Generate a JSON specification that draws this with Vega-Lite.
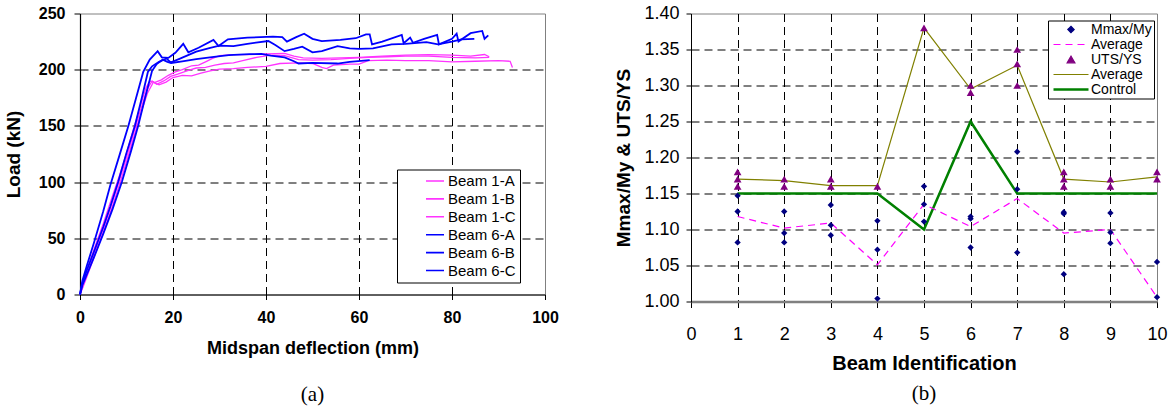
{
  "$schema": "https://vega.github.io/schema/vega-lite/v6.json",
  "background": "white",
  "padding": {"left": 3, "top": 3.5, "right": 0, "bottom": 0},
  "bounds": "flush",
  "spacing": 146,
  "resolve": {"scale": {"color": "independent"}, "legend": {"color": "independent"}},
  "config": {
    "font": "Liberation Sans",
    "view": {"stroke": "#808080", "strokeWidth": 1},
    "axis": {"gridColor": "#000", "gridDash": [8, 5], "gridWidth": 1, "domainColor": "#000", "tickColor": "#000", "labelColor": "#000", "titleColor": "#000", "labelFlush": false, "labelOverlap": false}
  },
  "datasets": {
    "curves": [
      {"b":"Beam 1-A","d":0,"l":0},{"b":"Beam 1-A","d":0.5,"l":8},{"b":"Beam 1-A","d":1.5,"l":22},{"b":"Beam 1-A","d":3,"l":40},{"b":"Beam 1-A","d":5,"l":63},{"b":"Beam 1-A","d":7,"l":88},{"b":"Beam 1-A","d":8.5,"l":106},{"b":"Beam 1-A","d":10,"l":126},{"b":"Beam 1-A","d":11.5,"l":147},{"b":"Beam 1-A","d":13,"l":168},{"b":"Beam 1-A","d":14.2,"l":184},{"b":"Beam 1-A","d":15,"l":190},{"b":"Beam 1-A","d":16,"l":188.5},{"b":"Beam 1-A","d":17.5,"l":191},{"b":"Beam 1-A","d":19,"l":195},{"b":"Beam 1-A","d":20.5,"l":198},{"b":"Beam 1-A","d":22,"l":200},{"b":"Beam 1-A","d":24,"l":203.5},{"b":"Beam 1-A","d":25.5,"l":204},{"b":"Beam 1-A","d":27,"l":207},{"b":"Beam 1-A","d":28.5,"l":210},{"b":"Beam 1-A","d":30,"l":212.5},{"b":"Beam 1-A","d":33,"l":213.5},{"b":"Beam 1-A","d":36,"l":213.5},{"b":"Beam 1-A","d":40,"l":214},{"b":"Beam 1-A","d":44,"l":214.5},{"b":"Beam 1-A","d":46,"l":212},{"b":"Beam 1-A","d":48,"l":210.5},{"b":"Beam 1-A","d":52,"l":210},{"b":"Beam 1-A","d":56,"l":210.5},{"b":"Beam 1-A","d":60,"l":211},{"b":"Beam 1-A","d":65,"l":212},{"b":"Beam 1-A","d":70,"l":213},{"b":"Beam 1-A","d":75,"l":213.5},{"b":"Beam 1-A","d":80,"l":213},{"b":"Beam 1-A","d":84,"l":212},{"b":"Beam 1-A","d":87,"l":213.5},{"b":"Beam 1-A","d":88,"l":211.5},
      {"b":"Beam 1-B","d":0,"l":0},{"b":"Beam 1-B","d":0.5,"l":6},{"b":"Beam 1-B","d":1.5,"l":18},{"b":"Beam 1-B","d":3,"l":36},{"b":"Beam 1-B","d":5,"l":58},{"b":"Beam 1-B","d":7,"l":83},{"b":"Beam 1-B","d":8.5,"l":102},{"b":"Beam 1-B","d":10,"l":122},{"b":"Beam 1-B","d":11.5,"l":143},{"b":"Beam 1-B","d":13,"l":164},{"b":"Beam 1-B","d":14.5,"l":183},{"b":"Beam 1-B","d":15.5,"l":190},{"b":"Beam 1-B","d":16.5,"l":187},{"b":"Beam 1-B","d":18,"l":190},{"b":"Beam 1-B","d":19.5,"l":194},{"b":"Beam 1-B","d":21,"l":196},{"b":"Beam 1-B","d":23,"l":199},{"b":"Beam 1-B","d":25,"l":201.5},{"b":"Beam 1-B","d":27,"l":202},{"b":"Beam 1-B","d":29,"l":204},{"b":"Beam 1-B","d":31,"l":205.5},{"b":"Beam 1-B","d":33,"l":206},{"b":"Beam 1-B","d":35,"l":208},{"b":"Beam 1-B","d":38,"l":211},{"b":"Beam 1-B","d":41,"l":213},{"b":"Beam 1-B","d":44,"l":212.5},{"b":"Beam 1-B","d":47,"l":209},{"b":"Beam 1-B","d":50,"l":208.5},{"b":"Beam 1-B","d":54,"l":209},{"b":"Beam 1-B","d":58,"l":210},{"b":"Beam 1-B","d":62,"l":211},{"b":"Beam 1-B","d":66,"l":211.5},{"b":"Beam 1-B","d":70,"l":212},{"b":"Beam 1-B","d":75,"l":212},{"b":"Beam 1-B","d":80,"l":211},{"b":"Beam 1-B","d":85,"l":210.5},{"b":"Beam 1-B","d":88,"l":211},
      {"b":"Beam 1-C","d":0,"l":0},{"b":"Beam 1-C","d":0.5,"l":5},{"b":"Beam 1-C","d":1.5,"l":16},{"b":"Beam 1-C","d":3,"l":33},{"b":"Beam 1-C","d":5,"l":55},{"b":"Beam 1-C","d":7,"l":79},{"b":"Beam 1-C","d":8.5,"l":98},{"b":"Beam 1-C","d":10,"l":118},{"b":"Beam 1-C","d":11.5,"l":139},{"b":"Beam 1-C","d":13,"l":160},{"b":"Beam 1-C","d":14.5,"l":179},{"b":"Beam 1-C","d":15.8,"l":189},{"b":"Beam 1-C","d":17,"l":186.5},{"b":"Beam 1-C","d":18.5,"l":189},{"b":"Beam 1-C","d":20,"l":193},{"b":"Beam 1-C","d":22,"l":195},{"b":"Beam 1-C","d":24,"l":194.5},{"b":"Beam 1-C","d":26,"l":197},{"b":"Beam 1-C","d":28,"l":199},{"b":"Beam 1-C","d":30,"l":200.5},{"b":"Beam 1-C","d":33,"l":201},{"b":"Beam 1-C","d":36,"l":202},{"b":"Beam 1-C","d":40,"l":203},{"b":"Beam 1-C","d":43,"l":205.5},{"b":"Beam 1-C","d":47,"l":206},{"b":"Beam 1-C","d":50,"l":205.5},{"b":"Beam 1-C","d":52,"l":202},{"b":"Beam 1-C","d":53,"l":201},{"b":"Beam 1-C","d":54.5,"l":204},{"b":"Beam 1-C","d":58,"l":205},{"b":"Beam 1-C","d":60,"l":205},{"b":"Beam 1-C","d":62,"l":208},{"b":"Beam 1-C","d":66,"l":208.5},{"b":"Beam 1-C","d":70,"l":208},{"b":"Beam 1-C","d":75,"l":208},{"b":"Beam 1-C","d":80,"l":207},{"b":"Beam 1-C","d":85,"l":207.5},{"b":"Beam 1-C","d":90,"l":208},{"b":"Beam 1-C","d":92.5,"l":207.5},{"b":"Beam 1-C","d":93,"l":202},
      {"b":"Beam 6-A","d":0,"l":0},{"b":"Beam 6-A","d":0.5,"l":12},{"b":"Beam 6-A","d":1.5,"l":26},{"b":"Beam 6-A","d":3,"l":46},{"b":"Beam 6-A","d":5,"l":74},{"b":"Beam 6-A","d":6.5,"l":97},{"b":"Beam 6-A","d":8.5,"l":124},{"b":"Beam 6-A","d":10.4,"l":150},{"b":"Beam 6-A","d":12,"l":174},{"b":"Beam 6-A","d":13.6,"l":198},{"b":"Beam 6-A","d":15,"l":209},{"b":"Beam 6-A","d":16.7,"l":216.5},{"b":"Beam 6-A","d":17.6,"l":211},{"b":"Beam 6-A","d":19,"l":210.5},{"b":"Beam 6-A","d":20.5,"l":215},{"b":"Beam 6-A","d":22.2,"l":223},{"b":"Beam 6-A","d":23.3,"l":215.5},{"b":"Beam 6-A","d":25.5,"l":219.5},{"b":"Beam 6-A","d":28.7,"l":226.5},{"b":"Beam 6-A","d":29.8,"l":221},{"b":"Beam 6-A","d":31.8,"l":227},{"b":"Beam 6-A","d":36,"l":228.5},{"b":"Beam 6-A","d":41.5,"l":229.5},{"b":"Beam 6-A","d":43.5,"l":229},{"b":"Beam 6-A","d":44.5,"l":225},{"b":"Beam 6-A","d":46.5,"l":229},{"b":"Beam 6-A","d":48.2,"l":232},{"b":"Beam 6-A","d":50,"l":227.5},{"b":"Beam 6-A","d":52,"l":225.5},{"b":"Beam 6-A","d":56,"l":226.5},{"b":"Beam 6-A","d":59.3,"l":228},{"b":"Beam 6-A","d":61.5,"l":231.5},{"b":"Beam 6-A","d":62.3,"l":231.5},{"b":"Beam 6-A","d":62.8,"l":222.5},{"b":"Beam 6-A","d":65,"l":225},{"b":"Beam 6-A","d":69.2,"l":231},{"b":"Beam 6-A","d":69.6,"l":223.5},{"b":"Beam 6-A","d":71,"l":228.5},{"b":"Beam 6-A","d":71.6,"l":224},{"b":"Beam 6-A","d":74,"l":227.5},{"b":"Beam 6-A","d":76.8,"l":231},{"b":"Beam 6-A","d":77.2,"l":222.5},{"b":"Beam 6-A","d":80,"l":227.5},{"b":"Beam 6-A","d":81,"l":232},{"b":"Beam 6-A","d":81.4,"l":225},{"b":"Beam 6-A","d":84,"l":232.5},{"b":"Beam 6-A","d":86.5,"l":234.5},{"b":"Beam 6-A","d":87,"l":227.5},{"b":"Beam 6-A","d":87.8,"l":230.5},
      {"b":"Beam 6-B","d":0,"l":0},{"b":"Beam 6-B","d":0.5,"l":10},{"b":"Beam 6-B","d":1.5,"l":22},{"b":"Beam 6-B","d":3,"l":38},{"b":"Beam 6-B","d":5,"l":60},{"b":"Beam 6-B","d":6.5,"l":78},{"b":"Beam 6-B","d":8.2,"l":100},{"b":"Beam 6-B","d":10,"l":126},{"b":"Beam 6-B","d":11.8,"l":150},{"b":"Beam 6-B","d":13.3,"l":175},{"b":"Beam 6-B","d":14.6,"l":198},{"b":"Beam 6-B","d":15.5,"l":203},{"b":"Beam 6-B","d":17,"l":207},{"b":"Beam 6-B","d":18.6,"l":210},{"b":"Beam 6-B","d":19.5,"l":206.5},{"b":"Beam 6-B","d":21,"l":209},{"b":"Beam 6-B","d":23,"l":212.5},{"b":"Beam 6-B","d":25,"l":216},{"b":"Beam 6-B","d":28,"l":219.5},{"b":"Beam 6-B","d":30,"l":221.5},{"b":"Beam 6-B","d":33,"l":221},{"b":"Beam 6-B","d":36,"l":223},{"b":"Beam 6-B","d":40.5,"l":225.5},{"b":"Beam 6-B","d":42,"l":222},{"b":"Beam 6-B","d":44,"l":216.5},{"b":"Beam 6-B","d":46,"l":218.5},{"b":"Beam 6-B","d":47.8,"l":220.5},{"b":"Beam 6-B","d":50,"l":215.5},{"b":"Beam 6-B","d":52,"l":216.5},{"b":"Beam 6-B","d":55.4,"l":221},{"b":"Beam 6-B","d":58,"l":219},{"b":"Beam 6-B","d":60,"l":218.5},{"b":"Beam 6-B","d":63,"l":219},{"b":"Beam 6-B","d":67,"l":222.5},{"b":"Beam 6-B","d":70,"l":223},{"b":"Beam 6-B","d":74.5,"l":224.5},{"b":"Beam 6-B","d":77,"l":222.5},{"b":"Beam 6-B","d":80,"l":225},{"b":"Beam 6-B","d":82,"l":227},{"b":"Beam 6-B","d":84.8,"l":227.5},
      {"b":"Beam 6-C","d":0,"l":0},{"b":"Beam 6-C","d":0.5,"l":8},{"b":"Beam 6-C","d":1.5,"l":18},{"b":"Beam 6-C","d":3,"l":33},{"b":"Beam 6-C","d":5,"l":54},{"b":"Beam 6-C","d":7,"l":76},{"b":"Beam 6-C","d":9,"l":100},{"b":"Beam 6-C","d":11,"l":128},{"b":"Beam 6-C","d":12.5,"l":150},{"b":"Beam 6-C","d":14,"l":175},{"b":"Beam 6-C","d":15.5,"l":199},{"b":"Beam 6-C","d":16.5,"l":205},{"b":"Beam 6-C","d":17.8,"l":209},{"b":"Beam 6-C","d":18.8,"l":207},{"b":"Beam 6-C","d":19.6,"l":206},{"b":"Beam 6-C","d":22,"l":207.5},{"b":"Beam 6-C","d":25,"l":209.5},{"b":"Beam 6-C","d":28.8,"l":211.5},{"b":"Beam 6-C","d":32,"l":213},{"b":"Beam 6-C","d":36.4,"l":213.8},{"b":"Beam 6-C","d":39,"l":214},{"b":"Beam 6-C","d":41,"l":212.5},{"b":"Beam 6-C","d":44,"l":211},{"b":"Beam 6-C","d":46,"l":207.5},{"b":"Beam 6-C","d":47,"l":205.5},{"b":"Beam 6-C","d":50,"l":206},{"b":"Beam 6-C","d":55.4,"l":205.5},{"b":"Beam 6-C","d":58,"l":207},{"b":"Beam 6-C","d":62.3,"l":208.5}
    ],
    "pts": [
      {"s":"Mmax/My","x":1,"v":1.147},{"s":"Mmax/My","x":1,"v":1.125},{"s":"Mmax/My","x":1,"v":1.082},
      {"s":"Mmax/My","x":2,"v":1.125},{"s":"Mmax/My","x":2,"v":1.095},{"s":"Mmax/My","x":2,"v":1.082},
      {"s":"Mmax/My","x":3,"v":1.134},{"s":"Mmax/My","x":3,"v":1.106},{"s":"Mmax/My","x":3,"v":1.092},
      {"s":"Mmax/My","x":4,"v":1.112},{"s":"Mmax/My","x":4,"v":1.072},{"s":"Mmax/My","x":4,"v":1.004},
      {"s":"Mmax/My","x":5,"v":1.16},{"s":"Mmax/My","x":5,"v":1.135},{"s":"Mmax/My","x":5,"v":1.111},
      {"s":"Mmax/My","x":6,"v":1.118},{"s":"Mmax/My","x":6,"v":1.115},{"s":"Mmax/My","x":6,"v":1.075},
      {"s":"Mmax/My","x":7,"v":1.208},{"s":"Mmax/My","x":7,"v":1.156},{"s":"Mmax/My","x":7,"v":1.068},
      {"s":"Mmax/My","x":8,"v":1.124},{"s":"Mmax/My","x":8,"v":1.122},{"s":"Mmax/My","x":8,"v":1.038},
      {"s":"Mmax/My","x":9,"v":1.123},{"s":"Mmax/My","x":9,"v":1.096},{"s":"Mmax/My","x":9,"v":1.081},
      {"s":"Mmax/My","x":10,"v":1.055},{"s":"Mmax/My","x":10,"v":1.006},
      {"s":"UTS/YS","x":1,"v":1.18},{"s":"UTS/YS","x":1,"v":1.17},{"s":"UTS/YS","x":1,"v":1.16},
      {"s":"UTS/YS","x":2,"v":1.17},{"s":"UTS/YS","x":2,"v":1.16},
      {"s":"UTS/YS","x":3,"v":1.17},{"s":"UTS/YS","x":3,"v":1.16},
      {"s":"UTS/YS","x":4,"v":1.16},
      {"s":"UTS/YS","x":5,"v":1.38},
      {"s":"UTS/YS","x":6,"v":1.3},{"s":"UTS/YS","x":6,"v":1.29},
      {"s":"UTS/YS","x":7,"v":1.35},{"s":"UTS/YS","x":7,"v":1.33},{"s":"UTS/YS","x":7,"v":1.3},
      {"s":"UTS/YS","x":8,"v":1.18},{"s":"UTS/YS","x":8,"v":1.17},{"s":"UTS/YS","x":8,"v":1.16},
      {"s":"UTS/YS","x":9,"v":1.17},{"s":"UTS/YS","x":9,"v":1.16},
      {"s":"UTS/YS","x":10,"v":1.18},{"s":"UTS/YS","x":10,"v":1.17}
    ],
    "lines": [
      {"s":"Average (M)","x":1,"v":1.118},{"s":"Average (M)","x":2,"v":1.102},{"s":"Average (M)","x":3,"v":1.109},{"s":"Average (M)","x":4,"v":1.051},{"s":"Average (M)","x":5,"v":1.135},{"s":"Average (M)","x":6,"v":1.104},{"s":"Average (M)","x":7,"v":1.143},{"s":"Average (M)","x":8,"v":1.095},{"s":"Average (M)","x":9,"v":1.1},{"s":"Average (M)","x":10,"v":1.006},
      {"s":"Average (U)","x":1,"v":1.17},{"s":"Average (U)","x":2,"v":1.168},{"s":"Average (U)","x":3,"v":1.161},{"s":"Average (U)","x":4,"v":1.161},{"s":"Average (U)","x":5,"v":1.38},{"s":"Average (U)","x":6,"v":1.295},{"s":"Average (U)","x":7,"v":1.328},{"s":"Average (U)","x":8,"v":1.17},{"s":"Average (U)","x":9,"v":1.166},{"s":"Average (U)","x":10,"v":1.173},
      {"s":"Control","x":1,"v":1.15},{"s":"Control","x":2,"v":1.15},{"s":"Control","x":3,"v":1.15},{"s":"Control","x":4,"v":1.15},{"s":"Control","x":5,"v":1.1},{"s":"Control","x":6,"v":1.25},{"s":"Control","x":7,"v":1.15},{"s":"Control","x":8,"v":1.15},{"s":"Control","x":9,"v":1.15},{"s":"Control","x":10,"v":1.15}
    ]
  },
  "hconcat": [
    {
      "width": 465,
      "height": 281,
      "title": {"text": "(a)", "orient": "bottom", "font": "Liberation Serif", "fontSize": 21, "fontWeight": "normal", "color": "#000", "offset": 26},
      "data": {"name": "curves"},
      "layer": [
        {
          "transform": [{"filter": "indexof(datum.b, 'Beam 1') == 0"}],
          "mark": {"type": "line", "strokeWidth": 1.3},
          "encoding": {
            "x": {"field": "d", "type": "quantitative", "scale": {"domain": [0, 100], "nice": false},
              "axis": {"values": [0, 20, 40, 60, 80, 100], "tickCount": 20, "format": "d", "title": "Midspan deflection (mm)", "titleFontSize": 18, "titleFontWeight": "bold", "labelFontSize": 16, "labelFontWeight": "bold", "tickSize": 5, "labelPadding": 10, "titlePadding": 14, "domainWidth": 1.2,
                "gridOpacity": {"condition": {"test": "datum.value == 0 || datum.value == 100", "value": 0}, "value": 1}}},
            "y": {"field": "l", "type": "quantitative", "scale": {"domain": [0, 250], "nice": false},
              "axis": {"values": [0, 50, 100, 150, 200, 250], "tickCount": 20, "format": "d", "title": "Load (kN)", "titleFontSize": 19, "titleFontWeight": "bold", "labelFontSize": 16, "labelFontWeight": "bold", "tickSize": 6, "labelPadding": 9, "titlePadding": 15, "domainWidth": 1.2,
                "gridOpacity": {"condition": {"test": "datum.value == 0 || datum.value == 250", "value": 0}, "value": 1}}},
            "color": {"field": "b", "type": "nominal",
              "scale": {"domain": ["Beam 1-A", "Beam 1-B", "Beam 1-C", "Beam 6-A", "Beam 6-B", "Beam 6-C"], "range": ["#FF33FF", "#FF33FF", "#FF33FF", "#0000FF", "#0000FF", "#0000FF"]},
              "legend": {"orient": "none", "legendX": 317, "legendY": 156, "title": null, "strokeColor": "#000", "fillColor": "#fff", "padding": 4, "labelFontSize": 15, "labelFont": "Liberation Sans", "symbolType": "stroke", "symbolSize": 324, "symbolStrokeWidth": 1.6, "symbolOffset": 24, "labelOffset": 3, "clipHeight": 15, "rowPadding": 1.9}}
          }
        },
        {
          "transform": [{"filter": "indexof(datum.b, 'Beam 6') == 0"}],
          "mark": {"type": "line", "strokeWidth": 1.8},
          "encoding": {
            "x": {"field": "d", "type": "quantitative"},
            "y": {"field": "l", "type": "quantitative"},
            "color": {"field": "b", "type": "nominal"}
          }
        }
      ]
    },
    {
      "width": 466,
      "height": 288,
      "title": {"text": "(b)", "orient": "bottom", "font": "Liberation Serif", "fontSize": 21, "fontWeight": "normal", "color": "#000", "offset": 9},
      "layer": [
        {
          "data": {"name": "lines"},
          "transform": [{"filter": "datum.s == 'Control'"}],
          "mark": {"type": "line", "strokeWidth": 2.5},
          "encoding": {
            "x": {"field": "x", "type": "quantitative", "scale": {"domain": [0, 10], "nice": false},
              "axis": {"values": [0, 1, 2, 3, 4, 5, 6, 7, 8, 9, 10], "tickCount": 20, "format": "d", "title": "Beam Identification", "titleFontSize": 20, "titleFontWeight": "bold", "labelFontSize": 18, "labelFontWeight": "normal", "tickSize": 6, "labelPadding": 18, "titlePadding": 10, "domainColor": "#808080", "domainWidth": 2.5,
                "gridOpacity": {"condition": {"test": "datum.value == 0 || datum.value == 10", "value": 0}, "value": 1}}},
            "y": {"field": "v", "type": "quantitative", "scale": {"domain": [1, 1.4], "nice": false, "zero": false},
              "axis": {"values": [1, 1.05, 1.1, 1.15, 1.2, 1.25, 1.3, 1.35, 1.4], "tickCount": 20, "format": ".2f", "title": "Mmax/My & UTS/YS", "titleFontSize": 19, "titleFontWeight": "bold", "labelFontSize": 18, "tickSize": 5, "labelPadding": 7, "titlePadding": 10,
                "gridOpacity": {"condition": {"test": "datum.value < 1.001 || datum.value > 1.399", "value": 0}, "value": 1}}},
            "color": {"field": "s", "type": "nominal",
              "scale": {"domain": ["Mmax/My", "Average (M)", "UTS/YS", "Average (U)", "Control"], "range": ["#000080", "#FF00FF", "#800080", "#808000", "#008000"]},
              "legend": {"orient": "none", "legendX": 357, "legendY": 7, "title": null, "strokeColor": "#000", "fillColor": "#fff", "padding": 2, "labelFontSize": 14, "labelFont": "Liberation Sans", "symbolSize": 1225, "symbolStrokeWidth": 1.2, "symbolOffset": 14, "labelOffset": 13, "clipHeight": 14, "rowPadding": 1,
                "labelExpr": "datum.label == 'Average (M)' || datum.label == 'Average (U)' ? 'Average' : datum.label",
                "encode": {"symbols": {"update": {
                  "shape": {"signal": "datum.value == 'Mmax/My' ? 'diamond' : datum.value == 'UTS/YS' ? 'triangle-up' : 'stroke'"},
                  "size": {"signal": "datum.value == 'Mmax/My' ? 40 : datum.value == 'UTS/YS' ? 60 : 1225"},
                  "strokeDash": {"signal": "datum.value == 'Average (M)' ? [7, 5] : [1, 0]"},
                  "fill": {"signal": "datum.value == 'Mmax/My' ? '#000080' : datum.value == 'UTS/YS' ? '#800080' : 'transparent'"},
                  "stroke": {"signal": "datum.value == 'Mmax/My' ? '#000080' : datum.value == 'UTS/YS' ? '#800080' : datum.value == 'Average (M)' ? '#FF00FF' : datum.value == 'Average (U)' ? '#808000' : '#008000'"},
                  "strokeWidth": {"signal": "datum.value == 'Control' ? 2.5 : 1.2"},
                  "opacity": {"value": 1}
                }}}}}
          }
        },
        {
          "data": {"name": "lines"},
          "transform": [{"filter": "datum.s == 'Average (U)'"}],
          "mark": {"type": "line", "strokeWidth": 1.2},
          "encoding": {"x": {"field": "x", "type": "quantitative"}, "y": {"field": "v", "type": "quantitative"}, "color": {"field": "s", "type": "nominal"}}
        },
        {
          "data": {"name": "lines"},
          "transform": [{"filter": "datum.s == 'Average (M)'"}],
          "mark": {"type": "line", "strokeWidth": 1.2, "strokeDash": [7, 5]},
          "encoding": {"x": {"field": "x", "type": "quantitative"}, "y": {"field": "v", "type": "quantitative"}, "color": {"field": "s", "type": "nominal"}}
        },
        {
          "data": {"name": "pts"},
          "transform": [{"filter": "datum.s == 'UTS/YS'"}],
          "mark": {"type": "point", "shape": "triangle-up", "filled": true, "size": 60, "opacity": 1},
          "encoding": {"x": {"field": "x", "type": "quantitative"}, "y": {"field": "v", "type": "quantitative"}, "color": {"field": "s", "type": "nominal"}}
        },
        {
          "data": {"name": "pts"},
          "transform": [{"filter": "datum.s == 'Mmax/My'"}],
          "mark": {"type": "point", "shape": "diamond", "filled": true, "size": 40, "opacity": 1},
          "encoding": {"x": {"field": "x", "type": "quantitative"}, "y": {"field": "v", "type": "quantitative"}, "color": {"field": "s", "type": "nominal"}}
        }
      ]
    }
  ]
}
